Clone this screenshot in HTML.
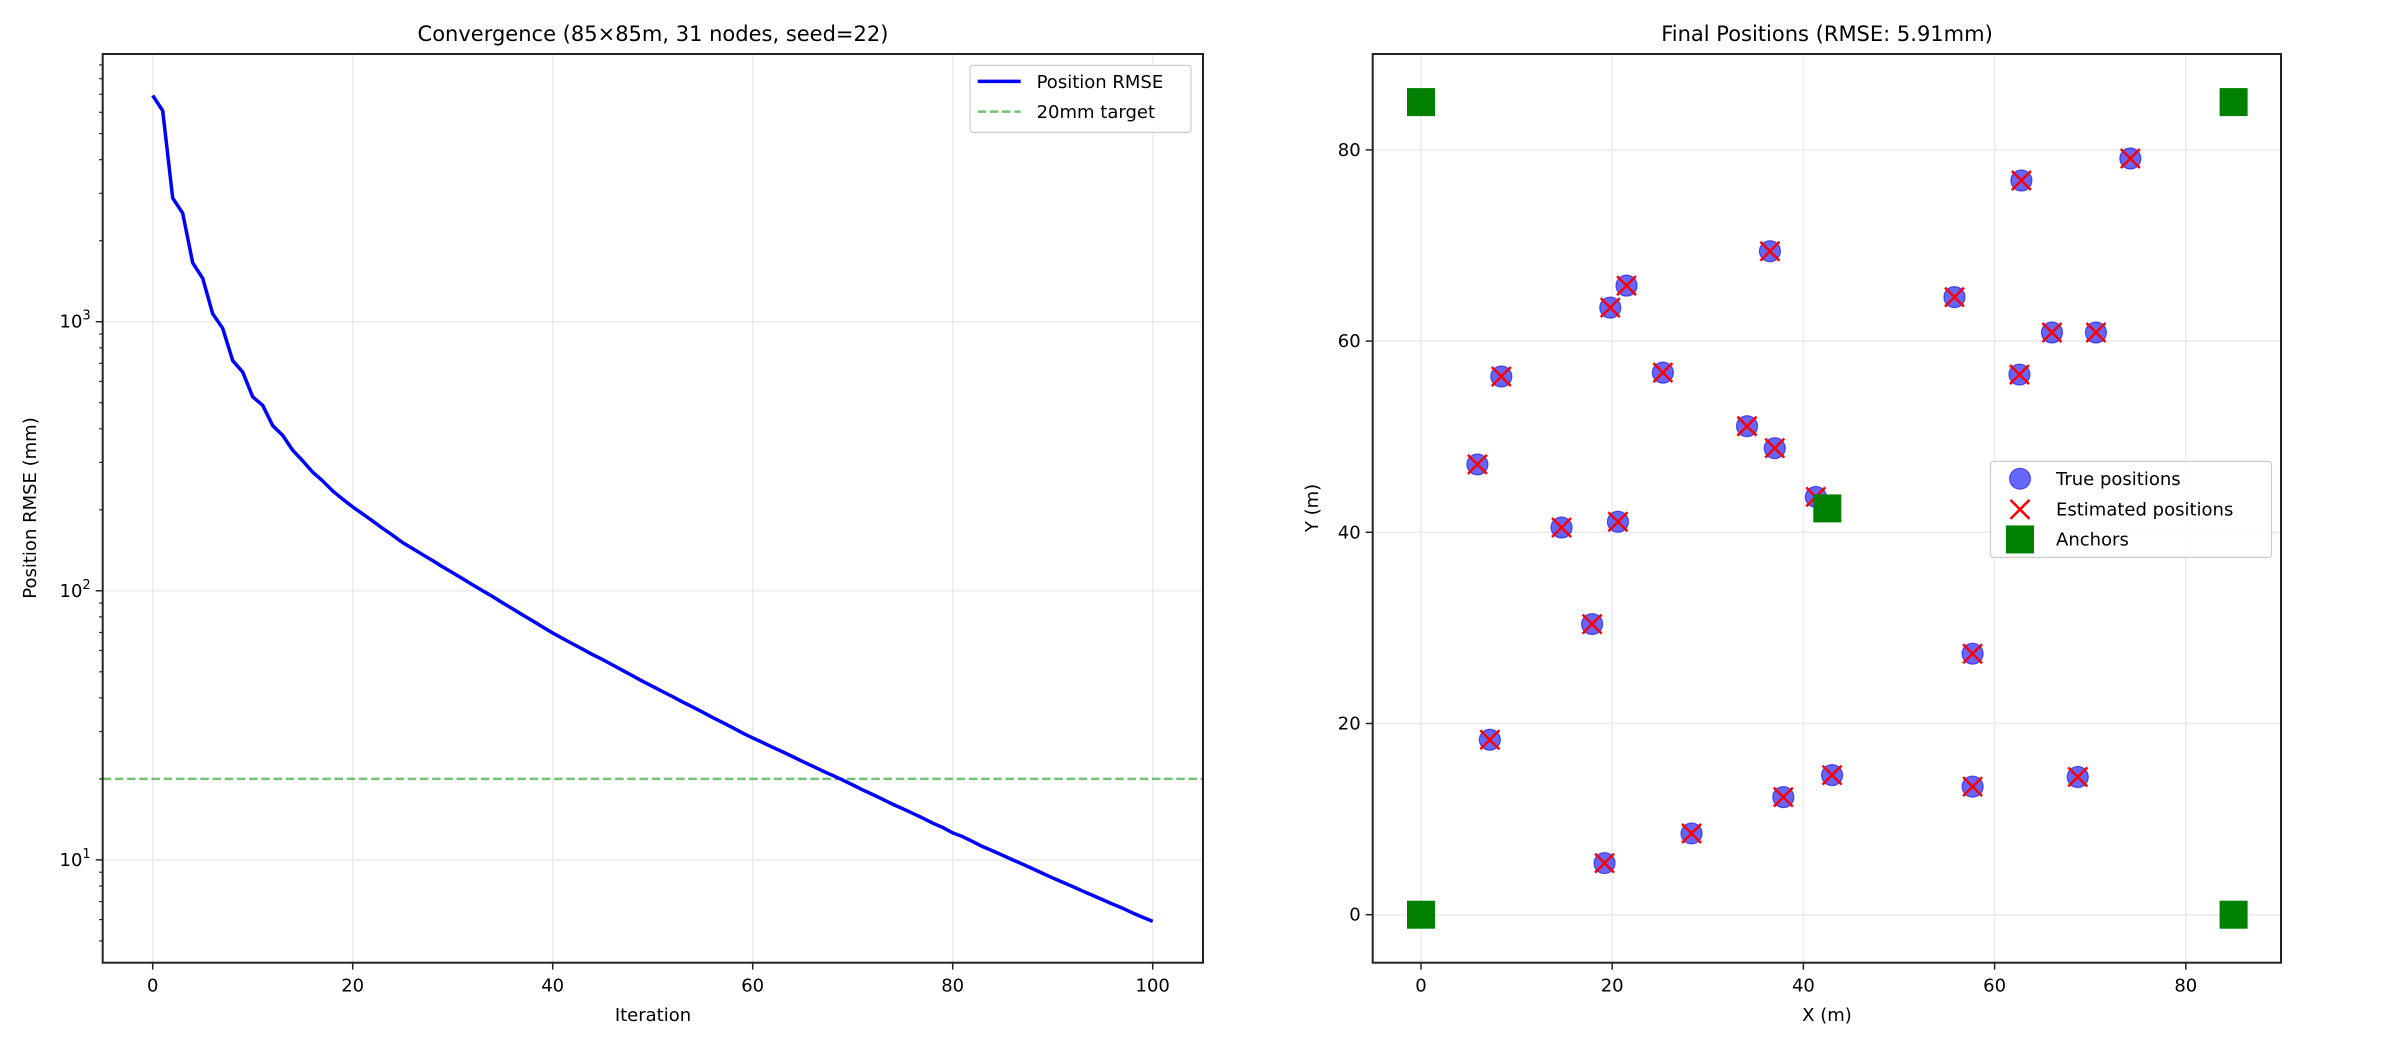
<!DOCTYPE html>
<html><head><meta charset="utf-8"><style>
body{margin:0;background:#fff}
svg{display:block;font-family:"DejaVu Sans","Liberation Sans",sans-serif}
</style></head><body>
<svg id="chart" width="2400" height="1050" viewBox="0 0 2400 1050" xmlns="http://www.w3.org/2000/svg">
<rect width="2400" height="1050" fill="#fff"/>
<g id="left"></g>
<g id="right"></g>
</svg>
<script>
const iterations = Array.from({length:101},(_,i)=>i);
const rmseValues = [6930,6080,2880,2530,1655,1450,1070,945,717,650,526,489,411,378,333,304,276,256,235,219,205,
193,181.6,170.6,160.7,151,143.5,136.2,129.4,122.7,116.7,110.9,105.2,100,95.1,90.2,85.7,81.3,77.3,73.4,69.7,
66.5,63.5,60.7,57.9,55.5,53.0,50.6,48.3,46.1,44.1,42.2,40.4,38.6,37.0,35.4,33.8,32.4,31.0,29.6,28.4,
27.3,26.2,25.2,24.2,23.2,22.3,21.4,20.6,19.8,19.0,18.2,17.5,16.8,16.1,15.5,14.9,14.3,13.7,13.2,12.6,
12.2,11.7,11.2,10.8,10.4,10.0,9.64,9.27,8.91,8.57,8.26,7.96,7.66,7.38,7.11,6.85,6.61,6.35,6.12,5.91];
const targetValue = 20;
const xTicksLeft = [0,20,40,60,80,100];
const yDecades = [1,2,3];
const trueX = [62.8,74.2,36.5,21.5,19.8,55.8,66.0,70.6,62.6,8.4,25.3,34.1,37.0,5.9,41.3,14.7,20.6,17.9,57.7,7.2,43.0,37.9,57.7,68.7,28.3,19.2];
const trueY = [76.8,79.1,69.4,65.8,63.5,64.6,60.9,60.9,56.5,56.3,56.7,51.1,48.8,47.1,43.7,40.5,41.1,30.4,27.3,18.3,14.6,12.3,13.4,14.4,8.5,5.4];
const estX = trueX.slice();
const estY = trueY.slice();
const anchorX = [0,85,0,85,42.5];
const anchorY = [0,0,85,85,42.5];
const xTicksRight = [0,20,40,60,80];
const yTicksRight = [0,20,40,60,80];

const NS='http://www.w3.org/2000/svg';
function mk(parent,tag,attrs,text){const e=document.createElementNS(NS,tag);for(const k in attrs)e.setAttribute(k,attrs[k]);if(text!==undefined)e.textContent=text;parent.appendChild(e);return e;}
const FS=18;
// ---------- Left panel ----------
const L=document.getElementById('left');
const lx0=102.7,lx1=1203,ly0=54,ly1=962.7;
const xL=v=>152.7+(v)*10;
const dec=269.1, y10=859.9;
const yL=v=>y10-(Math.log10(v)-1)*dec;
let g;
for(const t of xTicksLeft){g=mk(L,'line',{x1:xL(t),x2:xL(t),y1:ly0,y2:ly1,stroke:'#ebebeb','stroke-width':1.5});}
for(const d of yDecades){const v=Math.pow(10,d);g=mk(L,'line',{x1:lx0,x2:lx1,y1:yL(v),y2:yL(v),stroke:'#ebebeb','stroke-width':1.5});}
g=mk(L,'line',{x1:lx0,x2:lx1,y1:yL(targetValue),y2:yL(targetValue),stroke:'#5cb85c','stroke-opacity':0.85,'stroke-width':2.5,'stroke-dasharray':'8.5,3.7'});


g=mk(L,'polyline',{points:iterations.map((x,i)=>xL(x)+','+yL(rmseValues[i])).join(' '),fill:'none',stroke:'#0000ff','stroke-width':3.5,'stroke-linejoin':'round'});


g=mk(L,'rect',{x:lx0,y:ly0,width:lx1-lx0,height:ly1-ly0,fill:'none',stroke:'#222','stroke-width':2});


for(const t of xTicksLeft){mk(L,'line',{x1:xL(t),x2:xL(t),y1:ly1,y2:ly1+7,stroke:'#222','stroke-width':1.5});
g=mk(L,'text',{x:xL(t),y:ly1+29,'font-size':FS,'text-anchor':'middle',fill:'#000'},String(t));}
for(let d=0;d<=3;d++){for(let m=1;m<10;m++){const v=m*Math.pow(10,d);const y=yL(v);if(y<ly0||y>ly1)continue;
mk(L,'line',{x1:lx0-(m==1?7:3.5),x2:lx0,y1:y,y2:y,stroke:'#222','stroke-width':m==1?1.5:1.2});}}
for(const d of yDecades){const y=yL(Math.pow(10,d));g=mk(L,'text',{x:lx0-12,y:y+6,'font-size':FS,'text-anchor':'end',fill:'#000'});


mk(g,'tspan',{},'10');mk(g,'tspan',{dy:-8,'font-size':13},String(d));}
g=mk(L,'text',{x:653,y:41,'font-size':21,'text-anchor':'middle'},'Convergence (85×85m, 31 nodes, seed=22)');
g=mk(L,'text',{x:653,y:1021,'font-size':FS,'text-anchor':'middle'},'Iteration');
g=mk(L,'text',{x:0,y:0,'font-size':FS,'text-anchor':'middle',transform:'translate(36,508) rotate(-90)'},'Position RMSE (mm)');
const lg=mk(L,'g',{});
mk(lg,'rect',{x:970,y:65.4,width:221,height:67,rx:3,fill:'#fff','fill-opacity':0.8,stroke:'#ccc','stroke-width':1.2});
mk(lg,'line',{x1:977.7,x2:1020.7,y1:81.4,y2:81.4,stroke:'#0000ff','stroke-width':3.5});
g=mk(lg,'text',{x:1036.6,y:87.8,'font-size':FS},'Position RMSE');
mk(lg,'line',{x1:977.7,x2:1020.7,y1:111.6,y2:111.6,stroke:'#5cb85c','stroke-opacity':0.85,'stroke-width':2.5,'stroke-dasharray':'8.5,3.7'});
g=mk(lg,'text',{x:1036.6,y:118,'font-size':FS},'20mm target');

// ---------- Right panel ----------
const R=document.getElementById('right');
const rx0=1372.7,rx1=2281,ry0=54,ry1=962.7;
const xR=v=>1421+v*9.56;
const yR=v=>914.7-v*9.56;
for(const t of xTicksRight){g=mk(R,'line',{x1:xR(t),x2:xR(t),y1:ry0,y2:ry1,stroke:'#ebebeb','stroke-width':1.5});}
for(const t of yTicksRight){g=mk(R,'line',{x1:rx0,x2:rx1,y1:yR(t),y2:yR(t),stroke:'#ebebeb','stroke-width':1.5});}
for(let i=0;i<trueX.length;i++){g=mk(R,'circle',{cx:xR(trueX[i]),cy:yR(trueY[i]),r:10.5,fill:'#0000ff','fill-opacity':0.6,stroke:'#0000cc','stroke-opacity':0.6,'stroke-width':1.2});

}
for(let i=0;i<estX.length;i++){const cx=xR(estX[i]),cy=yR(estY[i]),h=9.5;
g=mk(R,'path',{d:`M${cx-h},${cy-h}L${cx+h},${cy+h}M${cx-h},${cy+h}L${cx+h},${cy-h}`,stroke:'#ff0000','stroke-width':2.5,fill:'none'});

}
for(let i=0;i<anchorX.length;i++){g=mk(R,'rect',{x:xR(anchorX[i])-14,y:yR(anchorY[i])-14,width:28,height:28,fill:'#008000'});

}
g=mk(R,'rect',{x:rx0,y:ry0,width:rx1-rx0,height:ry1-ry0,fill:'none',stroke:'#222','stroke-width':2});
for(const t of xTicksRight){mk(R,'line',{x1:xR(t),x2:xR(t),y1:ry1,y2:ry1+7,stroke:'#222','stroke-width':1.5});
g=mk(R,'text',{x:xR(t),y:ry1+29,'font-size':FS,'text-anchor':'middle'},String(t));}
for(const t of yTicksRight){mk(R,'line',{x1:rx0-7,x2:rx0,y1:yR(t),y2:yR(t),stroke:'#222','stroke-width':1.5});
g=mk(R,'text',{x:rx0-12,y:yR(t)+6,'font-size':FS,'text-anchor':'end'},String(t));}
g=mk(R,'text',{x:1827,y:41,'font-size':21,'text-anchor':'middle'},'Final Positions (RMSE: 5.91mm)');
g=mk(R,'text',{x:1827,y:1021,'font-size':FS,'text-anchor':'middle'},'X (m)');
g=mk(R,'text',{x:0,y:0,'font-size':FS,'text-anchor':'middle',transform:'translate(1318,508) rotate(-90)'},'Y (m)');
const rg=mk(R,'g',{});
mk(rg,'rect',{x:1990.5,y:461.4,width:281,height:96,rx:3,fill:'#fff','fill-opacity':0.8,stroke:'#ccc','stroke-width':1.2});
mk(rg,'circle',{cx:2020,cy:478.7,r:10.5,fill:'#0000ff','fill-opacity':0.6,stroke:'#0000cc','stroke-opacity':0.6});
g=mk(rg,'text',{x:2056,y:485,'font-size':FS},'True positions');
mk(rg,'path',{d:'M2010.5,499.9L2029.5,518.9M2010.5,518.9L2029.5,499.9',stroke:'#ff0000','stroke-width':2.5});
g=mk(rg,'text',{x:2056,y:515.7,'font-size':FS},'Estimated positions');
mk(rg,'rect',{x:2006,y:525.4,width:28,height:28,fill:'#008000'});
g=mk(rg,'text',{x:2056,y:545.7,'font-size':FS},'Anchors');
</script>
</body></html>
